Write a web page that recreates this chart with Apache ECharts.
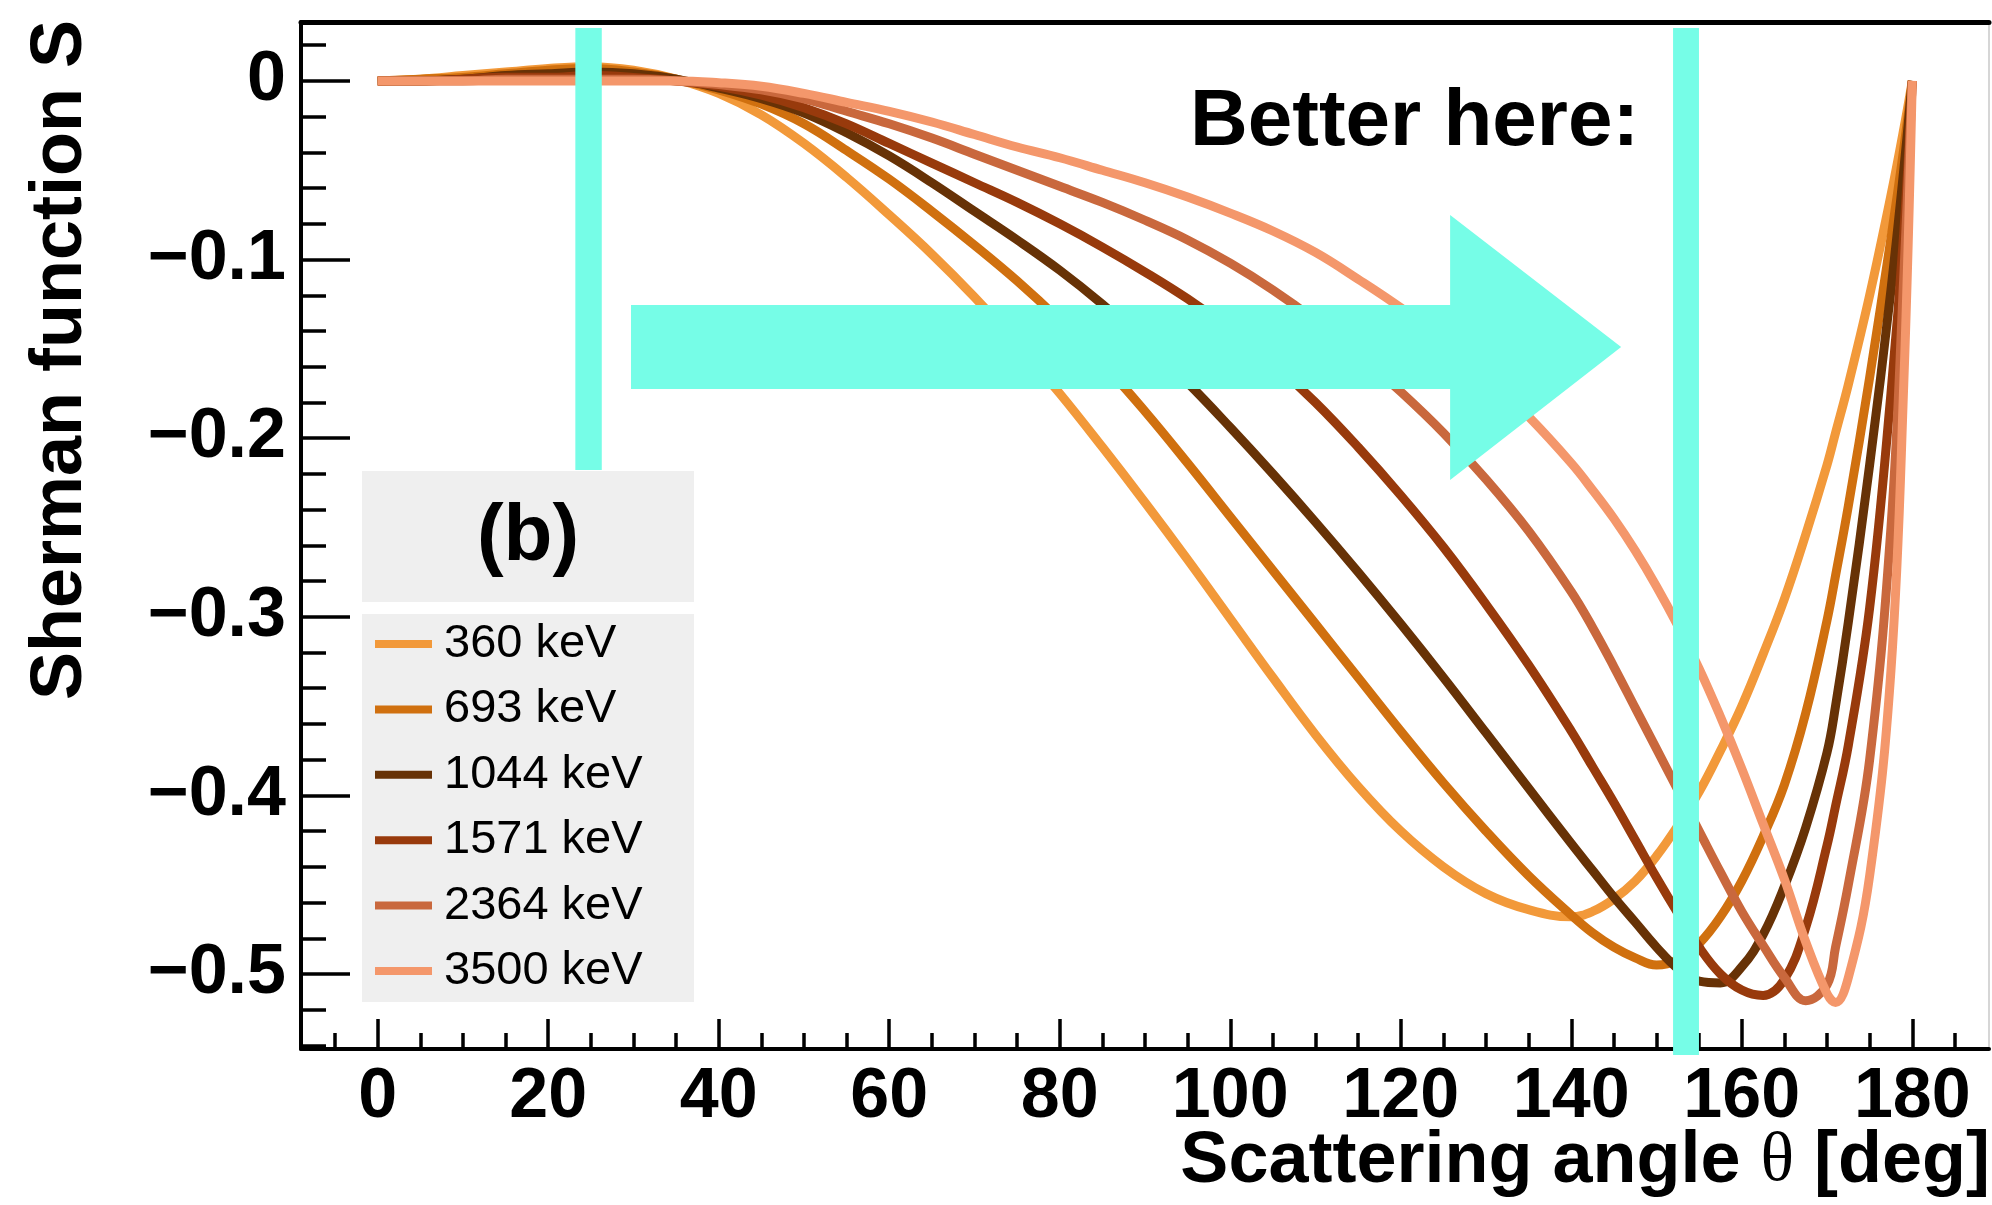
<!DOCTYPE html>
<html>
<head>
<meta charset="utf-8">
<title>Sherman function S vs scattering angle</title>
<script src="https://cdn.jsdelivr.net/npm/echarts@6/dist/echarts.min.js"></script>
<style>
  html, body { margin: 0; padding: 0; background: #ffffff; }
  #chart { width: 1992px; height: 1205px; }
</style>
</head>
<body>
<div id="chart"></div>
<script>
// Scattering angle grid (deg) shared by all curves
const ANGLES = [0, 5, 10, 15, 20, 25, 30, 35, 40, 45, 50, 55, 60, 65, 70, 75, 80, 85, 90, 95,
  100, 105, 110, 115, 120, 125, 130, 135, 140, 142.5, 145, 147.5, 150, 152.5, 155, 157.5, 160,
  162.5, 165, 167.5, 170, 171, 172.5, 175, 177.5, 179, 180];

// Sherman function S for each electron energy
const S_360 = [0, 0.001, 0.003, 0.005, 0.007, 0.008, 0.006, 0.001, -0.007, -0.019, -0.035, -0.054,
  -0.075, -0.097, -0.121, -0.147, -0.175, -0.205, -0.236, -0.268, -0.301, -0.334, -0.366, -0.395,
  -0.420, -0.440, -0.455, -0.464, -0.468, -0.465, -0.458, -0.448, -0.434, -0.417, -0.398, -0.375,
  -0.350, -0.321, -0.290, -0.254, -0.215, -0.197, -0.170, -0.120, -0.064, -0.027, 0];
const S_693 = [0, 0.001, 0.002, 0.004, 0.006, 0.007, 0.005, 0.001, -0.005, -0.013, -0.024, -0.039,
  -0.055, -0.073, -0.092, -0.112, -0.134, -0.158, -0.185, -0.214, -0.244, -0.274, -0.304, -0.334,
  -0.364, -0.393, -0.420, -0.445, -0.467, -0.477, -0.485, -0.491, -0.495, -0.492, -0.483, -0.468,
  -0.448, -0.423, -0.394, -0.354, -0.302, -0.277, -0.238, -0.166, -0.088, -0.038, 0];
const S_1044 = [0, 0.000, 0.001, 0.003, 0.004, 0.005, 0.004, 0.001, -0.004, -0.010, -0.018, -0.029,
  -0.042, -0.057, -0.073, -0.089, -0.106, -0.125, -0.146, -0.169, -0.194, -0.220, -0.247, -0.275,
  -0.304, -0.334, -0.365, -0.396, -0.427, -0.442, -0.457, -0.471, -0.485, -0.497, -0.504, -0.505,
  -0.496, -0.478, -0.451, -0.418, -0.376, -0.350, -0.303, -0.215, -0.117, -0.050, 0];
const S_1571 = [0, 0.000, 0.001, 0.002, 0.002, 0.003, 0.002, 0.000, -0.003, -0.008, -0.015, -0.024,
  -0.035, -0.046, -0.057, -0.068, -0.080, -0.093, -0.107, -0.122, -0.139, -0.158, -0.180, -0.205,
  -0.232, -0.261, -0.293, -0.327, -0.364, -0.384, -0.404, -0.425, -0.446, -0.466, -0.485, -0.500,
  -0.509, -0.512, -0.503, -0.474, -0.428, -0.406, -0.372, -0.295, -0.175, -0.085, 0];
const S_2364 = [0, 0.000, 0.000, 0.001, 0.001, 0.001, 0.001, 0.000, -0.002, -0.005, -0.010, -0.017,
  -0.024, -0.032, -0.041, -0.050, -0.059, -0.068, -0.078, -0.089, -0.102, -0.117, -0.134, -0.153,
  -0.174, -0.197, -0.223, -0.252, -0.286, -0.306, -0.328, -0.351, -0.374, -0.397, -0.420, -0.443,
  -0.465, -0.484, -0.502, -0.515, -0.506, -0.485, -0.450, -0.380, -0.250, -0.110, 0];
const S_3500 = [0, 0.000, 0.000, 0.000, 0.000, 0.000, 0.000, 0.000, -0.001, -0.003, -0.007, -0.012,
  -0.017, -0.023, -0.030, -0.037, -0.043, -0.050, -0.057, -0.065, -0.074, -0.084, -0.096, -0.111,
  -0.127, -0.145, -0.165, -0.188, -0.214, -0.229, -0.245, -0.263, -0.283, -0.305, -0.329, -0.356,
  -0.385, -0.416, -0.447, -0.482, -0.511, -0.516, -0.502, -0.445, -0.330, -0.170, 0];

const ENERGY_LABELS = ['360 keV', '693 keV', '1044 keV', '1571 keV', '2364 keV', '3500 keV'];
const CURVES = [S_360, S_693, S_1044, S_1571, S_2364, S_3500];
const CURVE_COLORS = ['#f2993a', '#d0700f', '#673206', '#983a0c', '#c9683d', '#f4976b'];

// Axis ticks
const X_MAJOR = [0, 20, 40, 60, 80, 100, 120, 140, 160, 180];
const X_MINOR = [-5, 5, 10, 15, 25, 30, 35, 45, 50, 55, 65, 70, 75, 85, 90, 95, 105, 110, 115,
  125, 130, 135, 145, 150, 155, 165, 170, 175, 185];
const Y_MAJOR = [0, -0.1, -0.2, -0.3, -0.4, -0.5];
const Y_MINOR = [0.02, -0.02, -0.04, -0.06, -0.08, -0.12, -0.14, -0.16, -0.18, -0.22, -0.24,
  -0.26, -0.28, -0.32, -0.34, -0.36, -0.38, -0.42, -0.44, -0.46, -0.48, -0.52, -0.54];

// Highlight guides, in axis units (deg, S)
const GUIDE_LOW = { angle: 24.73, halfWidth: 1.55, top: 0.0297, bottom: -0.2178 };
const GUIDE_HIGH = { angle: 153.46, halfWidth: 1.52, top: 0.0297, bottom: -0.5453 };
const ARROW = { tail: 29.71, neck: 125.79, tip: 145.85, shaftTop: -0.1254, shaftBottom: -0.1725,
  headTop: -0.0751, headBottom: -0.2234, mid: -0.1490 };

const FONT = '"Liberation Sans", Arial, Helvetica, sans-serif';
const X_MIN = -9, X_MAX = 189, Y_MIN = -0.542, Y_MAX = 0.033;
const HILITE = '#76fde7';

const chart = echarts.init(document.getElementById('chart'), null, { renderer: 'canvas' });

const tickStyle = { color: '#000', width: 3.5 };
const fmtY = v => (Math.abs(v) < 1e-9 ? '0' : '\u2212' + Math.abs(v).toFixed(1));

const option = {
  backgroundColor: '#ffffff',
  animation: false,
  grid: { left: 301, top: 22, right: 3, bottom: 156, containLabel: false },
  legend: {
    data: ENERGY_LABELS,
    orient: 'vertical',
    left: 362,
    top: 614,
    padding: [6, 0, 0, 13],
    icon: 'rect',
    itemWidth: 57,
    itemHeight: 8,
    itemGap: 17.4,
    selectedMode: false,
    textStyle: { fontFamily: FONT, fontSize: 47, lineHeight: 48, color: '#000', padding: [0, 0, 0, 7] },
    z: 5
  },
  xAxis: [
    {
      type: 'value', min: X_MIN, max: X_MAX, position: 'bottom', offset: 0,
      axisLine: { show: true, onZero: false, lineStyle: { color: '#000', width: 4 } },
      axisTick: { show: true, inside: true, length: 30, customValues: X_MAJOR, lineStyle: tickStyle },
      axisLabel: { show: true, customValues: X_MAJOR, margin: 14, fontFamily: FONT, fontSize: 70,
        fontWeight: 'bold', color: '#000' },
      splitLine: { show: false }
    },
    {
      type: 'value', min: X_MIN, max: X_MAX, position: 'bottom', offset: 0,
      axisLine: { show: false, onZero: false },
      axisTick: { show: true, inside: true, length: 16, customValues: X_MINOR, lineStyle: tickStyle },
      axisLabel: { show: false },
      splitLine: { show: false }
    },
    {
      type: 'value', min: X_MIN, max: X_MAX, position: 'top', offset: 0,
      axisLine: { show: true, onZero: false, lineStyle: { color: '#000', width: 5 } },
      axisTick: { show: false }, axisLabel: { show: false }, splitLine: { show: false }
    }
  ],
  yAxis: [
    {
      type: 'value', min: Y_MIN, max: Y_MAX, position: 'left', offset: 0,
      axisLine: { show: true, onZero: false, lineStyle: { color: '#000', width: 4 } },
      axisTick: { show: true, inside: true, length: 49, customValues: Y_MAJOR, lineStyle: tickStyle },
      axisLabel: { show: true, customValues: Y_MAJOR, margin: 15, formatter: fmtY, fontFamily: FONT,
        fontSize: 70, fontWeight: 'bold', color: '#000' },
      splitLine: { show: false }
    },
    {
      type: 'value', min: Y_MIN, max: Y_MAX, position: 'left', offset: 0,
      axisLine: { show: false, onZero: false },
      axisTick: { show: true, inside: true, length: 25, customValues: Y_MINOR, lineStyle: tickStyle },
      axisLabel: { show: false },
      splitLine: { show: false }
    },
    {
      type: 'value', min: Y_MIN, max: Y_MAX, position: 'right', offset: 0,
      axisLine: { show: true, onZero: false, lineStyle: { color: '#d6d6d6', width: 2 } },
      axisTick: { show: false }, axisLabel: { show: false }, splitLine: { show: false }
    }
  ],
  series: ENERGY_LABELS.map((name, i) => ({
    name: name,
    type: 'line',
    xAxisIndex: 0,
    yAxisIndex: 0,
    data: ANGLES.map((a, j) => [a, CURVES[i][j]]),
    symbol: 'none',
    showSymbol: false,
    smooth: 0.4,
    lineStyle: { color: CURVE_COLORS[i], width: 9, join: 'round' },
    itemStyle: { color: CURVE_COLORS[i] },
    emphasis: { disabled: true },
    z: 2
  }))
};

chart.setOption(option);

// Place the highlight shapes through the axis scales
const px = (x, y) => chart.convertToPixel({ seriesIndex: 0 }, [x, y]);
function bandPoints(g) {
  return [px(g.angle - g.halfWidth, g.top), px(g.angle + g.halfWidth, g.top),
          px(g.angle + g.halfWidth, g.bottom), px(g.angle - g.halfWidth, g.bottom)];
}
const arrowPoints = [
  px(ARROW.tail, ARROW.shaftTop), px(ARROW.neck, ARROW.shaftTop), px(ARROW.neck, ARROW.headTop),
  px(ARROW.tip, ARROW.mid), px(ARROW.neck, ARROW.headBottom), px(ARROW.neck, ARROW.shaftBottom),
  px(ARROW.tail, ARROW.shaftBottom)
];

chart.setOption({
  graphic: [
    // legend panels
    { type: 'rect', id: 'panelTag', z: 1, shape: { x: 362, y: 471, width: 332, height: 131 },
      style: { fill: '#efefef' } },
    { type: 'rect', id: 'panelKeys', z: 1, shape: { x: 362, y: 614, width: 332, height: 388 },
      style: { fill: '#efefef' } },
    { type: 'text', id: 'tag', z: 6, x: 528, y: 538,
      style: { text: '(b)', font: 'bold 80px ' + FONT, fill: '#000', align: 'center', textAlign: 'center',
        verticalAlign: 'middle', textVerticalAlign: 'middle' } },
    // axis titles
    { type: 'text', id: 'yTitle', z: 6, x: 61, y: 20, rotation: Math.PI / 2,
      style: { text: 'Sherman function S', font: 'bold 72px ' + FONT, fill: '#000', align: 'right',
        textAlign: 'right', verticalAlign: 'middle', textVerticalAlign: 'middle' } },
    { type: 'text', id: 'xTitle', z: 6, x: 1990, y: 1162,
      style: {
        text: '{a|Scattering angle }{t|\u03b8}{a| [deg]}',
        align: 'right', textAlign: 'right', verticalAlign: 'middle', textVerticalAlign: 'middle',
        rich: {
          a: { fontFamily: FONT, fontWeight: 'bold', fontSize: 72, fill: '#000', color: '#000' },
          t: { fontFamily: '"Liberation Serif", "DejaVu Serif", serif', fontWeight: 'normal',
               fontSize: 70, fill: '#000', color: '#000' }
        }
      } },
    // highlight guides and arrow
    { type: 'polygon', id: 'guideLow', z: 20, shape: { points: bandPoints(GUIDE_LOW) },
      style: { fill: HILITE } },
    { type: 'polygon', id: 'guideHigh', z: 20, shape: { points: bandPoints(GUIDE_HIGH) },
      style: { fill: HILITE } },
    { type: 'polygon', id: 'arrow', z: 20, shape: { points: arrowPoints }, style: { fill: HILITE } },
    { type: 'text', id: 'note', z: 21, x: 1190, y: 123,
      style: { text: 'Better here:', font: 'bold 80px ' + FONT, fill: '#000', align: 'left',
        textAlign: 'left', verticalAlign: 'middle', textVerticalAlign: 'middle' } }
  ]
});
</script>
</body>
</html>
